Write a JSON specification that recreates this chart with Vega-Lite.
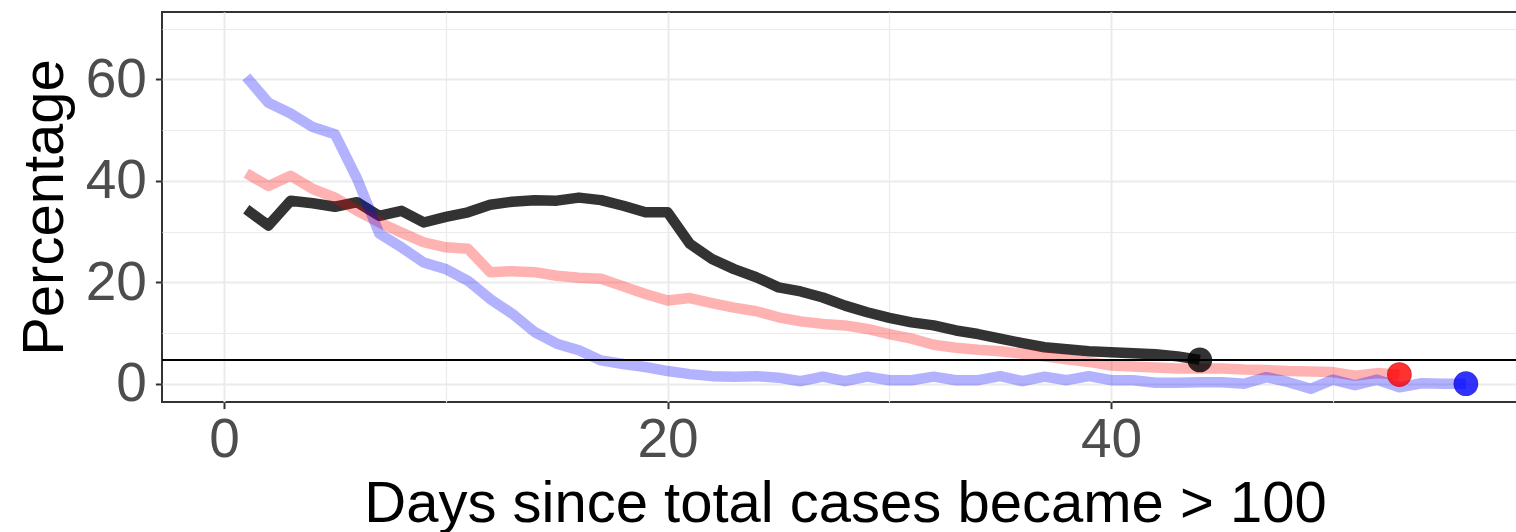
{
  "$schema": "https://vega.github.io/schema/vega-lite/v6.json",
  "width": 1366,
  "height": 390,
  "autosize": {"type": "none"},
  "padding": {"left": 162, "top": 12, "right": -12, "bottom": 130},
  "background": "white",
  "config": {
    "font": "Liberation Sans",
    "view": {"stroke": "#333333", "strokeWidth": 2},
    "axis": {
      "domain": false,
      "gridColor": "#EBEBEB",
      "tickColor": "#333333",
      "tickWidth": 2,
      "tickSize": 6.6,
      "labelColor": "#4D4D4D",
      "labelFontSize": 55,
      "labelFont": "Liberation Sans",
      "titleFont": "Liberation Sans",
      "titleFontSize": 58,
      "titleFontWeight": "normal",
      "titleColor": "#000000"
    }
  },
  "datasets": {
    "lines": [
      {"series": "A", "day": 1, "pct": 34.4}, {"series": "A", "day": 2, "pct": 31.2}, {"series": "A", "day": 3, "pct": 36.1}, {"series": "A", "day": 4, "pct": 35.6}, {"series": "A", "day": 5, "pct": 34.9}, {"series": "A", "day": 6, "pct": 35.8}, {"series": "A", "day": 7, "pct": 33.1}, {"series": "A", "day": 8, "pct": 34.1}, {"series": "A", "day": 9, "pct": 31.8}, {"series": "A", "day": 10, "pct": 32.9},
      {"series": "A", "day": 11, "pct": 33.8}, {"series": "A", "day": 12, "pct": 35.3}, {"series": "A", "day": 13, "pct": 35.9}, {"series": "A", "day": 14, "pct": 36.2}, {"series": "A", "day": 15, "pct": 36.1}, {"series": "A", "day": 16, "pct": 36.7}, {"series": "A", "day": 17, "pct": 36.2}, {"series": "A", "day": 18, "pct": 35.1}, {"series": "A", "day": 19, "pct": 33.8}, {"series": "A", "day": 20, "pct": 33.8},
      {"series": "A", "day": 21, "pct": 27.6}, {"series": "A", "day": 22, "pct": 24.6}, {"series": "A", "day": 23, "pct": 22.6}, {"series": "A", "day": 24, "pct": 21.0}, {"series": "A", "day": 25, "pct": 19.0}, {"series": "A", "day": 26, "pct": 18.2}, {"series": "A", "day": 27, "pct": 17.0}, {"series": "A", "day": 28, "pct": 15.4}, {"series": "A", "day": 29, "pct": 14.1}, {"series": "A", "day": 30, "pct": 13.0},
      {"series": "A", "day": 31, "pct": 12.1}, {"series": "A", "day": 32, "pct": 11.5}, {"series": "A", "day": 33, "pct": 10.5}, {"series": "A", "day": 34, "pct": 9.8}, {"series": "A", "day": 35, "pct": 8.9}, {"series": "A", "day": 36, "pct": 8.0}, {"series": "A", "day": 37, "pct": 7.2}, {"series": "A", "day": 38, "pct": 6.8}, {"series": "A", "day": 39, "pct": 6.4}, {"series": "A", "day": 40, "pct": 6.2},
      {"series": "A", "day": 41, "pct": 6.0}, {"series": "A", "day": 42, "pct": 5.8}, {"series": "A", "day": 43, "pct": 5.4}, {"series": "A", "day": 44, "pct": 4.7},

      {"series": "B", "day": 1, "pct": 41.5}, {"series": "B", "day": 2, "pct": 39.0}, {"series": "B", "day": 3, "pct": 41.0}, {"series": "B", "day": 4, "pct": 38.4}, {"series": "B", "day": 5, "pct": 36.7}, {"series": "B", "day": 6, "pct": 34.1}, {"series": "B", "day": 7, "pct": 31.8}, {"series": "B", "day": 8, "pct": 29.8}, {"series": "B", "day": 9, "pct": 27.9}, {"series": "B", "day": 10, "pct": 26.9},
      {"series": "B", "day": 11, "pct": 26.6}, {"series": "B", "day": 12, "pct": 22.0}, {"series": "B", "day": 13, "pct": 22.2}, {"series": "B", "day": 14, "pct": 22.0}, {"series": "B", "day": 15, "pct": 21.3}, {"series": "B", "day": 16, "pct": 20.9}, {"series": "B", "day": 17, "pct": 20.7}, {"series": "B", "day": 18, "pct": 19.2}, {"series": "B", "day": 19, "pct": 17.7}, {"series": "B", "day": 20, "pct": 16.4},
      {"series": "B", "day": 21, "pct": 16.9}, {"series": "B", "day": 22, "pct": 15.9}, {"series": "B", "day": 23, "pct": 15.0}, {"series": "B", "day": 24, "pct": 14.3}, {"series": "B", "day": 25, "pct": 13.1}, {"series": "B", "day": 26, "pct": 12.3}, {"series": "B", "day": 27, "pct": 11.8}, {"series": "B", "day": 28, "pct": 11.5}, {"series": "B", "day": 29, "pct": 10.8}, {"series": "B", "day": 30, "pct": 9.8},
      {"series": "B", "day": 31, "pct": 8.9}, {"series": "B", "day": 32, "pct": 7.7}, {"series": "B", "day": 33, "pct": 7.1}, {"series": "B", "day": 34, "pct": 6.7}, {"series": "B", "day": 35, "pct": 6.4}, {"series": "B", "day": 36, "pct": 5.9}, {"series": "B", "day": 37, "pct": 5.4}, {"series": "B", "day": 38, "pct": 4.8}, {"series": "B", "day": 39, "pct": 4.3}, {"series": "B", "day": 40, "pct": 3.6},
      {"series": "B", "day": 41, "pct": 3.4}, {"series": "B", "day": 42, "pct": 3.2}, {"series": "B", "day": 43, "pct": 3.0}, {"series": "B", "day": 44, "pct": 3.0}, {"series": "B", "day": 45, "pct": 3.0}, {"series": "B", "day": 46, "pct": 2.8}, {"series": "B", "day": 47, "pct": 2.7}, {"series": "B", "day": 48, "pct": 2.5}, {"series": "B", "day": 49, "pct": 2.4}, {"series": "B", "day": 50, "pct": 2.3},
      {"series": "B", "day": 51, "pct": 1.6}, {"series": "B", "day": 52, "pct": 2.1}, {"series": "B", "day": 53, "pct": 1.8},

      {"series": "C", "day": 1, "pct": 60.5}, {"series": "C", "day": 2, "pct": 55.4}, {"series": "C", "day": 3, "pct": 53.3}, {"series": "C", "day": 4, "pct": 50.6}, {"series": "C", "day": 5, "pct": 49.2}, {"series": "C", "day": 6, "pct": 40.4}, {"series": "C", "day": 7, "pct": 29.6}, {"series": "C", "day": 8, "pct": 26.9}, {"series": "C", "day": 9, "pct": 23.9}, {"series": "C", "day": 10, "pct": 22.6},
      {"series": "C", "day": 11, "pct": 20.3}, {"series": "C", "day": 12, "pct": 16.7}, {"series": "C", "day": 13, "pct": 13.8}, {"series": "C", "day": 14, "pct": 10.2}, {"series": "C", "day": 15, "pct": 7.9}, {"series": "C", "day": 16, "pct": 6.6}, {"series": "C", "day": 17, "pct": 4.6}, {"series": "C", "day": 18, "pct": 3.9}, {"series": "C", "day": 19, "pct": 3.3}, {"series": "C", "day": 20, "pct": 2.5},
      {"series": "C", "day": 21, "pct": 1.9}, {"series": "C", "day": 22, "pct": 1.5}, {"series": "C", "day": 23, "pct": 1.4}, {"series": "C", "day": 24, "pct": 1.5}, {"series": "C", "day": 25, "pct": 1.2}, {"series": "C", "day": 26, "pct": 0.5}, {"series": "C", "day": 27, "pct": 1.4}, {"series": "C", "day": 28, "pct": 0.5}, {"series": "C", "day": 29, "pct": 1.4}, {"series": "C", "day": 30, "pct": 0.7},
      {"series": "C", "day": 31, "pct": 0.7}, {"series": "C", "day": 32, "pct": 1.4}, {"series": "C", "day": 33, "pct": 0.7}, {"series": "C", "day": 34, "pct": 0.7}, {"series": "C", "day": 35, "pct": 1.5}, {"series": "C", "day": 36, "pct": 0.5}, {"series": "C", "day": 37, "pct": 1.4}, {"series": "C", "day": 38, "pct": 0.7}, {"series": "C", "day": 39, "pct": 1.5}, {"series": "C", "day": 40, "pct": 0.7},
      {"series": "C", "day": 41, "pct": 0.7}, {"series": "C", "day": 42, "pct": 0.2}, {"series": "C", "day": 43, "pct": 0.2}, {"series": "C", "day": 44, "pct": 0.3}, {"series": "C", "day": 45, "pct": 0.3}, {"series": "C", "day": 46, "pct": 0.0}, {"series": "C", "day": 47, "pct": 1.3}, {"series": "C", "day": 48, "pct": 0.3}, {"series": "C", "day": 49, "pct": -1.0}, {"series": "C", "day": 50, "pct": 0.8},
      {"series": "C", "day": 51, "pct": -0.3}, {"series": "C", "day": 52, "pct": 0.8}, {"series": "C", "day": 53, "pct": -0.7}, {"series": "C", "day": 54, "pct": 0.1}, {"series": "C", "day": 55, "pct": 0.0}, {"series": "C", "day": 56, "pct": 0.0}
    ],
    "ends": [
      {"series": "A", "day": 44, "pct": 4.7},
      {"series": "B", "day": 53, "pct": 1.8},
      {"series": "C", "day": 56, "pct": 0.0}
    ],
    "threshold": [{"pct": 4.7}]
  },
  "layer": [
    {
      "data": {"name": "lines"},
      "mark": {"type": "line", "strokeWidth": 10.5, "strokeCap": "butt", "strokeJoin": "round"},
      "encoding": {
        "x": {
          "field": "day", "type": "quantitative",
          "scale": {"domain": [-2.8, 58.8], "nice": false, "zero": false},
          "axis": {
            "values": [0, 10, 20, 30, 40, 50],
            "title": "Days since total cases became > 100",
            "labelExpr": "datum.value % 20 === 0 ? datum.label : ''",
            "labelPadding": 4.5,
            "tickOpacity": {"condition": {"test": "datum.value % 20 !== 0", "value": 0}, "value": 1},
            "gridWidth": {"condition": {"test": "datum.value % 20 !== 0", "value": 1.2}, "value": 2},
            "titleBaseline": "alphabetic",
            "titleX": 683,
            "titleY": 119.5
          }
        },
        "y": {
          "field": "pct", "type": "quantitative",
          "scale": {"domain": [-3.6, 73.3], "nice": false, "zero": false},
          "axis": {
            "values": [0, 10, 20, 30, 40, 50, 60, 70],
            "title": "Percentage",
            "labelExpr": "datum.value % 20 === 0 ? datum.label : ''",
            "labelPadding": 9,
            "tickOpacity": {"condition": {"test": "datum.value % 20 !== 0", "value": 0}, "value": 1},
            "gridWidth": {"condition": {"test": "datum.value % 20 !== 0", "value": 1.2}, "value": 2},
            "titleAngle": -90,
            "titleBaseline": "alphabetic",
            "titleAlign": "center",
            "titleX": -100,
            "titleY": 195
          }
        },
        "color": {"field": "series", "type": "nominal", "scale": {"domain": ["A", "B", "C"], "range": ["#000000", "#FF0000", "#0000FF"]}, "legend": null},
        "opacity": {"condition": {"test": "datum.series === 'A'", "value": 0.8}, "value": 0.3}
      }
    },
    {
      "data": {"name": "threshold"},
      "mark": {"type": "rule", "color": "#000000", "strokeWidth": 2},
      "encoding": {"y": {"field": "pct", "type": "quantitative"}}
    },
    {
      "data": {"name": "ends"},
      "mark": {"type": "point", "filled": true, "shape": "circle", "size": 540, "strokeWidth": 1.5},
      "encoding": {
        "x": {"field": "day", "type": "quantitative"},
        "y": {"field": "pct", "type": "quantitative"},
        "color": {"field": "series", "type": "nominal", "scale": {"domain": ["A", "B", "C"], "range": ["#000000", "#FF0000", "#0000FF"]}, "legend": null},
        "stroke": {"field": "series", "type": "nominal", "scale": {"domain": ["A", "B", "C"], "range": ["#000000", "#E00000", "#0000E0"]}, "legend": null},
        "opacity": {"value": 0.8}
      }
    }
  ]
}
